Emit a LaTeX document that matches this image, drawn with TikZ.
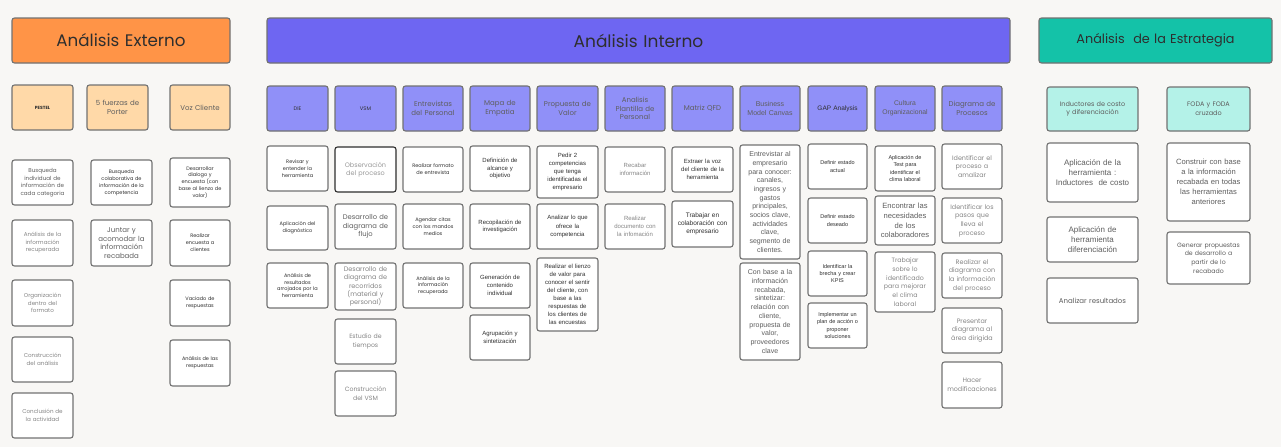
\documentclass[tikz,border=0pt]{standalone}
\usepackage{fontspec}
\setmainfont{Liberation Sans}
\newfontfamily\gfont{Poppins}
\newfontfamily\afont{Liberation Sans}
\definecolor{bg}{HTML}{F8F7F5}
\definecolor{hOrange}{HTML}{FF9447}
\definecolor{sOrange}{HTML}{FFD9A8}
\definecolor{hPurple}{HTML}{6E66F2}
\definecolor{sPurple}{HTML}{9090F8}
\definecolor{hTeal}{HTML}{14C2A8}
\definecolor{sTeal}{HTML}{B4F2E8}
\definecolor{edge}{HTML}{727272}
\definecolor{ink}{HTML}{2E2E2E}
\definecolor{soft}{HTML}{5E5E5E}
\definecolor{lite}{HTML}{858585}
\definecolor{pale}{HTML}{9A9A9A}
\tikzset{card/.style={draw=edge, line width=1.1pt, rounded corners=2.5pt, align=center, inner sep=0pt, outer sep=0pt, anchor=north west}}
\newcommand\Gf[2]{\gfont\fontsize{#1}{#2}\selectfont}
\newcommand\Af[2]{\afont\fontsize{#1}{#2}\selectfont}
\newcommand\cell[8]{%
 \pgfmathsetmacro\cellW{#4-#2}%
 \pgfmathsetmacro\cellH{#5-#3}%
 \pgfmathsetmacro\cellT{#4-#2-3}%
 \node[card, fill=#6, #7, minimum width=\cellW pt, minimum height=\cellH pt, text width=\cellT pt] (#1) at (#2,#3) {#8};}
\begin{document}
\begin{tikzpicture}[x=1pt,y=-1pt]
\fill[bg] (0,0) rectangle (1281,447);
\useasboundingbox (0,0) rectangle (1281,447);
% ---------------- Externo
\cell{ext}{12}{18}{230}{63}{hOrange}{font=\Gf{16.7}{20}, text=ink}{Análisis Externo}
\cell{pestel}{12}{85}{73}{130}{sOrange}{font=\Gf{4.5}{6}\bfseries, text=ink}{PESTEL}
\cell{porter}{87}{85}{148}{130}{sOrange}{font=\Gf{7}{8.8}, text=soft}{5 fuerzas de\\Porter}
\cell{voz}{170}{85}{230}{130}{sOrange}{font=\Gf{7}{8.8}, text=soft}{Voz Cliente}
\cell{p1}{12}{160}{73}{205}{white}{font=\Gf{5.6}{7.5}, text=soft}{Busqueda\\individual de\\información de\\cada categoria}
\cell{p2}{12}{220}{73}{266}{white}{font=\Gf{5.6}{7.5}, text=lite}{Análisis de la\\información\\recuperada}
\cell{p3}{12}{280}{73}{326}{white}{font=\Gf{5.6}{7.5}, text=lite}{Organización\\dentro del\\formato}
\cell{p4}{12}{337}{73}{382}{white}{font=\Gf{5.6}{7.5}, text=lite}{Construcción\\del análisis}
\cell{p5}{12}{393}{73}{438}{white}{font=\Gf{5.6}{7.5}, text=lite}{Conclusión de\\la actividad}
\cell{f1}{91}{160}{152}{205}{white}{font=\Gf{5}{6.9}, text=ink}{Busqueda\\colaborativa de\\información de la\\competencia}
\cell{f2}{91}{220}{152}{266}{white}{font=\Gf{7}{8.7}, text=soft}{Juntar y\\acomodar la\\información\\recabada}
\cell{v1}{170}{158}{230}{207}{white}{font=\Gf{5}{6.9}, text=ink}{Desarrollar\\dialogo y\\encuesta (con\\base al lienzo de\\valor)}
\cell{v2}{170}{220}{230}{266}{white}{font=\Gf{5}{6.9}, text=ink}{Realizar\\encuesta a\\clientes}
\cell{v3}{170}{280}{230}{326}{white}{font=\Gf{5}{6.9}, text=ink}{Vaciado de\\respuestas}
\cell{v4}{170}{340}{230}{386}{white}{font=\Gf{5}{6.9}, text=ink}{Análisis de las\\respuestas}
% ---------------- Interno
\cell{int}{267}{18}{1010}{63}{hPurple}{font=\Gf{17}{20}, text=ink}{Análisis Interno}
\cell{die}{267}{86}{328}{131}{sPurple}{font=\Gf{5.2}{7}, text=ink}{DIE}
\cell{vsm}{335}{86}{396}{131}{sPurple}{font=\Gf{5.2}{7}, text=ink}{VSM}
\cell{ent}{403}{86}{463}{131}{sPurple}{font=\Gf{7}{8.8}, text=soft}{Entrevistas\\del Personal}
\cell{mapa}{470}{86}{530}{131}{sPurple}{font=\Gf{7}{8.8}, text=soft}{Mapa de\\Empatia}
\cell{prop}{537}{86}{598}{131}{sPurple}{font=\Gf{7}{8.8}, text=soft}{Propuesta de\\Valor}
\cell{plan}{605}{86}{665}{131}{sPurple}{font=\Gf{7}{8.8}, text=soft}{Analisis\\Plantilla de\\Personal}
\cell{qfd}{672}{86}{733}{131}{sPurple}{font=\Gf{7}{8.8}, text=soft}{Matriz QFD}
\cell{bmc}{740}{86}{800}{131}{sPurple}{font=\Af{7}{8.6}, text=soft}{Business\\Model Canvas}
\cell{gap}{808}{86}{867}{131}{sPurple}{font=\Af{6.5}{8}, text=ink}{GAP Analysis}
\cell{cul}{875}{86}{935}{131}{sPurple}{font=\Af{6.8}{8.6}, text=soft}{Cultura\\Organizacional}
\cell{dia}{942}{86}{1002}{131}{sPurple}{font=\Gf{7}{8.8}, text=soft}{Diagrama de\\Procesos}
% DIE
\cell{d1}{267}{146}{328}{191}{white}{font=\Gf{5}{6.8}, text=ink}{Revisar y\\entender la\\herramienta}
\cell{d2}{267}{206}{328}{250}{white}{font=\Gf{5}{6.8}, text=ink}{Aplicación del\\diagnóstico}
\cell{d3}{267}{263}{328}{308}{white}{font=\Gf{5}{6.8}, text=ink}{Análisis de\\resultados\\arrojados por la\\herramienta}
% VSM
\cell{s1}{335}{147}{396}{192}{white}{draw=ink, font=\Gf{6.5}{8.3}, text=pale}{Observación\\del proceso}
\cell{s2}{335}{204}{396}{249}{white}{font=\Gf{6.8}{8.6}, text=soft}{Desarrollo de\\diagrama de\\flujo}
\cell{s3}{335}{263}{396}{310}{white}{font=\Gf{6.5}{8.1}, text=lite}{Desarrollo de\\diagrama de\\recorridos\\(material y\\personal)}
\cell{s4}{335}{319}{396}{364}{white}{font=\Gf{6.2}{8.3}, text=lite}{Estudio de\\tiempos}
\cell{s5}{335}{371}{396}{416}{white}{font=\Gf{6.2}{8.3}, text=lite}{Construcción\\del VSM}
% Entrevistas
\cell{e1}{403}{147}{463}{192}{white}{font=\Gf{5}{6.8}, text=ink}{Realizar formato\\de entrevista}
\cell{e2}{403}{204}{463}{249}{white}{font=\Gf{5}{6.8}, text=ink}{Agendar citas\\con los mandos\\medios}
\cell{e3}{403}{263}{463}{308}{white}{font=\Gf{5}{6.8}, text=ink}{Análisis de la\\información\\recuperada}
% Mapa
\cell{m1}{470}{146}{530}{191}{white}{font=\Af{6}{7.8}, text=ink}{Definición de\\alcance y\\objetivo}
\cell{m2}{470}{204}{530}{249}{white}{font=\Af{6}{7.8}, text=ink}{Recopilación de\\investigación}
\cell{m3}{470}{263}{530}{308}{white}{font=\Af{6}{7.8}, text=ink}{Generación de\\contenido\\individual}
\cell{m4}{470}{315}{530}{360}{white}{font=\Af{6}{7.8}, text=ink}{Agrupación y\\sintetización}
% Propuesta
\cell{v5}{537}{146}{598}{198}{white}{font=\Af{6}{8.1}, text=ink}{Pedir 2\\competencias\\que tenga\\identificadas el\\empresario}
\cell{v6}{537}{204}{598}{249}{white}{font=\Af{6}{8.1}, text=ink}{Analizar lo que\\ofrece la\\competencia}
\cell{v7}{537}{258}{598}{331}{white}{font=\Af{6}{8.1}, text=ink}{Realizar el lienzo\\de valor para\\conocer el sentir\\del cliente, con\\base a las\\respuestas de\\los clientes de\\las encuestas}
% Plantilla
\cell{l1}{605}{147}{665}{192}{white}{font=\Af{6}{8.1}, text=lite}{Recabar\\información}
\cell{l2}{605}{204}{665}{249}{white}{font=\Af{6}{8.1}, text=lite}{Realizar\\documento con\\la infomación}
% QFD
\cell{q1}{672}{147}{733}{192}{white}{font=\Af{6}{8.1}, text=ink}{Extraer la voz\\del cliente de la\\herramienta}
\cell{q2}{672}{201}{733}{247}{white}{font=\Af{6.5}{8.3}, text=ink}{Trabajar en\\colaboración con\\empresario}
% BMC
\cell{b1}{740}{145}{800}{259}{white}{font=\Af{7}{8.7}, text=soft}{Entrevistar al\\empresario\\para conocer:\\canales,\\ingresos y\\gastos\\principales,\\socios clave,\\actividades\\clave,\\segmento de\\clientes.}
\cell{b2}{740}{263}{800}{360}{white}{font=\Af{7}{8.7}, text=soft}{Con base a la\\información\\recabada,\\sintetizar:\\relación con\\cliente,\\propuesta de\\valor,\\proveedores\\clave}
% GAP
\cell{g1}{808}{144}{867}{189}{white}{font=\Af{5.5}{7.4}, text=ink}{Definir estado\\actual}
\cell{g2}{808}{198}{867}{243}{white}{font=\Af{5.5}{7.4}, text=ink}{Definir estado\\deseado}
\cell{g3}{808}{251}{867}{296}{white}{font=\Af{5.5}{7.4}, text=ink}{Identificar la\\brecha y crear\\KPIS}
\cell{g4}{808}{303}{867}{348}{white}{font=\Af{5.5}{7.4}, text=ink}{Implementar un\\plan de acción o\\proponer\\soluciones}
% Cultura
\cell{c1}{875}{146}{935}{191}{white}{font=\Af{5.5}{7.4}, text=ink}{Aplicación de\\Test para\\identificar el\\clima laboral}
\cell{c2}{875}{196}{935}{245}{white}{font=\Af{7.6}{9.7}, text=soft}{Encontrar las\\necesidades\\de los\\colaboradores}
\cell{c3}{875}{252}{935}{312}{white}{font=\Gf{6.3}{8.7}, text=lite}{Trabajar\\sobre lo\\identificado\\para mejorar\\el clima\\laboral}
% Diagrama
\cell{r1}{942}{144}{1002}{189}{white}{font=\Gf{6.4}{8.7}, text=lite}{Identificar el\\proceso a\\amalizar}
\cell{r2}{942}{198}{1002}{243}{white}{font=\Gf{6.4}{8.7}, text=lite}{Identificar los\\pasos que\\lleva el\\proceso}
\cell{r3}{942}{253}{1002}{298}{white}{font=\Gf{6.4}{8.7}, text=lite}{Realizar el\\diagrama con\\la información\\del proceso}
\cell{r4}{942}{308}{1002}{353}{white}{font=\Gf{6.4}{8.7}, text=lite}{Presentar\\diagrama al\\área dirigida}
\cell{r5}{942}{362}{1002}{408}{white}{font=\Gf{6.4}{8.7}, text=lite}{Hacer\\modificaciones}
% ---------------- Estrategia
\cell{est}{1039}{18}{1272}{63}{hTeal}{font=\Gf{12.8}{15}, text=ink}{Análisis~~de la Estrategia}
\cell{ind}{1047}{87}{1138}{131}{sTeal}{font=\Gf{6.5}{8.8}, text=soft}{Inductores de costo\\y diferenciación}
\cell{foda}{1167}{87}{1250}{131}{sTeal}{font=\Gf{6.5}{8.8}, text=soft}{FODA y FODA\\cruzado}
\cell{i1}{1047}{143}{1138}{202}{white}{font=\Af{8}{10}, text=soft}{Aplicación de la\\herramienta :\\Inductores~ de costo}
\cell{i2}{1047}{217}{1138}{262}{white}{font=\Af{8}{10}, text=soft}{Aplicación de\\herramienta\\diferenciación}
\cell{i3}{1047}{278}{1138}{323}{white}{font=\Gf{7}{9}, text=soft}{Analizar resultados}
\cell{o1}{1167}{143}{1250}{221}{white}{font=\Af{7.6}{10}, text=soft}{Construir con base\\a la información\\recabada en todas\\las herramientas\\anteriores}
\cell{o2}{1167}{232}{1250}{284}{white}{font=\Gf{6.2}{8.7}, text=soft}{Generar propuestas\\de desarrollo a\\partir de lo\\recabado}
\end{tikzpicture}
\end{document}
